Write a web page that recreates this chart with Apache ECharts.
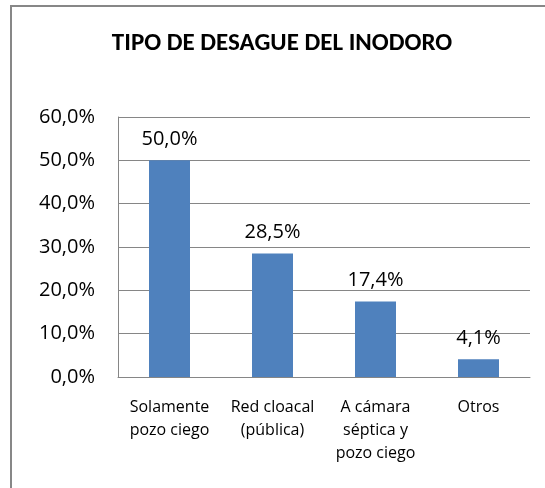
<!DOCTYPE html>
<html>
<head>
<meta charset="utf-8">
<script src="https://cdn.jsdelivr.net/npm/echarts@6/dist/echarts.min.js"></script>
<style>
  html, body { margin: 0; padding: 0; background: #ffffff; }
  #chart { width: 545px; height: 488px; }
</style>
</head>
<body>
<div id="chart"></div>
<script>
// Tipo de desagüe del inodoro: porcentaje de viviendas por categoría
const categories = ['Solamente\npozo ciego', 'Red cloacal\n(pública)', 'A cámara\nséptica y\npozo ciego', 'Otros'];
const values = [50.0, 28.5, 17.4, 4.1];
const yTicks = { min: 0, max: 60, interval: 10 };

const TITLE_FONT = 'Carlito, Lato, sans-serif';
const FONT = '"Open Sans", "Noto Sans", sans-serif';
const GRID_GRAY = '#868686';
const fmtPct = v => v.toFixed(1).replace('.', ',') + '%';

const chart = echarts.init(document.getElementById('chart'), null, { renderer: 'canvas' });
chart.setOption({
  backgroundColor: '#ffffff',
  animation: false,
  title: {
    text: 'TIPO DE DESAGUE DEL INODORO',
    left: 277,
    top: 26,
    textAlign: 'center',
    textStyle: { fontFamily: TITLE_FONT, fontSize: 25, fontWeight: 'bold', color: '#000000' }
  },
  graphic: [{
    type: 'rect',
    shape: { x: 11, y: 6, width: 700, height: 700 },
    style: { fill: 'none', stroke: '#878787', lineWidth: 2 },
    silent: true
  }],
  grid: { left: 118, top: 117, right: 15, bottom: 111, containLabel: false },
  xAxis: {
    type: 'category',
    data: categories,
    axisLine: { show: true, lineStyle: { color: GRID_GRAY, width: 1 } },
    axisTick: { show: false },
    axisLabel: {
      fontFamily: FONT, fontSize: 16, color: '#000000',
      lineHeight: 23, margin: 19, interval: 0
    }
  },
  yAxis: {
    type: 'value',
    min: yTicks.min, max: yTicks.max, interval: yTicks.interval,
    axisLine: { show: true, lineStyle: { color: GRID_GRAY, width: 1 } },
    axisTick: { show: false },
    splitLine: { show: true, lineStyle: { color: GRID_GRAY, width: 1 } },
    axisLabel: {
      fontFamily: FONT, fontSize: 20, color: '#000000', margin: 23,
      formatter: fmtPct
    }
  },
  series: [{
    type: 'bar',
    data: values,
    barWidth: 41,
    itemStyle: { color: '#4F81BD' },
    label: {
      show: true, position: 'top', distance: 11,
      fontFamily: FONT, fontSize: 20, color: '#000000',
      formatter: p => fmtPct(p.value)
    }
  }]
});
</script>
</body>
</html>
